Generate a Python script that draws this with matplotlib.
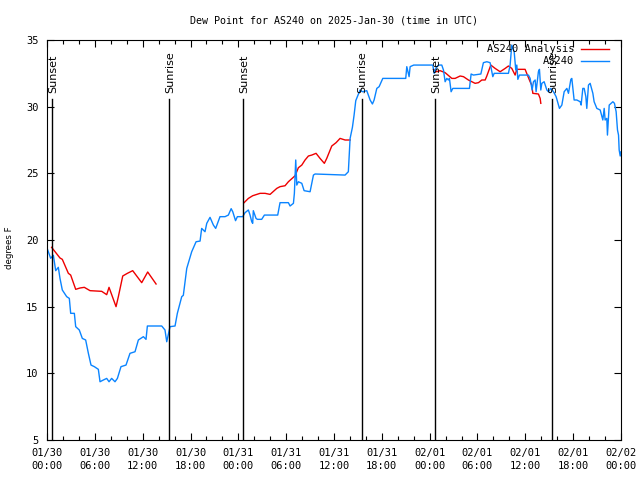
#!/usr/bin/env python3
"""
Dew point time series for AS240, gnuplot-style look
"""
import matplotlib.pyplot as plt
import numpy as np

# hours since 2025-01-30 00:00 UTC, dew point in degrees F
obs_hours = [0.0, 0.46, 0.8, 1.09, 1.42, 1.63, 1.92, 2.47, 2.8, 2.97, 3.43, 3.6, 4.05, 4.43,
             4.85, 5.19, 5.52, 5.94, 6.44, 6.65, 7.07, 7.49, 7.78, 8.11, 8.53, 8.83, 9.28,
             9.91, 10.41, 11.04, 11.46, 12.09, 12.42, 12.59, 14.39, 14.8, 15.02, 15.43,
             16.06, 16.35, 16.9, 17.1, 17.53, 18.15, 18.7, 19.2, 19.4, 19.82, 20.04, 20.45,
             20.87, 21.16, 21.7, 22.33, 22.75, 23.1, 23.3, 23.65, 23.88, 24.55, 24.84,
             25.26, 25.47, 25.68, 25.8, 25.88, 26.22, 26.39, 26.93, 27.27, 28.94, 29.23,
             30.28, 30.49, 30.91, 31.03, 31.2, 31.33, 31.53, 31.96, 32.25, 33.0, 33.42,
             33.63, 37.39, 37.8, 38.02, 38.31, 38.52, 38.73, 39.06, 39.27, 39.56, 40.11,
             40.53, 40.82, 41.03, 41.37, 41.66, 42.12, 45.0, 45.13, 45.42, 45.55, 46.0,
             48.39, 48.56, 48.77, 49.1, 49.52, 49.73, 49.94, 50.15, 50.35, 50.48, 50.69,
             50.9, 52.99, 53.2, 53.49, 54.42, 54.74, 55.17, 55.58, 55.92, 56.09, 57.88,
             58.09, 58.3, 58.6, 58.8, 58.93, 59.06, 59.26, 60.39, 60.6, 60.85, 61.02,
             61.23, 61.35, 61.64, 61.77, 61.94, 62.07, 62.36, 62.7, 62.9, 63.2, 63.53,
             63.86, 64.28, 64.58, 64.87, 65.21, 65.41, 65.71, 65.83, 66.12, 66.46, 66.88,
             67.0, 67.21, 67.38, 67.59, 67.71, 67.92, 68.13, 68.47, 68.63, 68.97, 69.39,
             69.72, 69.89, 70.01, 70.22, 70.3, 70.52, 70.98, 71.18, 71.39, 71.56, 71.69,
             71.77, 71.9, 72.0]
obs_dewpt = [19.4, 18.63, 18.85, 17.7, 17.95, 17.12, 16.25, 15.75, 15.62, 14.5, 14.5, 13.5,
             13.25, 12.62, 12.5, 11.5, 10.62, 10.5, 10.3, 9.37, 9.5, 9.62, 9.37, 9.62, 9.37,
             9.62, 10.5, 10.62, 11.5, 11.62, 12.5, 12.75, 12.55, 13.55, 13.55, 13.25, 12.37,
             13.5, 13.55, 14.5, 15.75, 15.85, 17.87, 19.12, 19.87, 19.92, 20.87, 20.62,
             21.25, 21.7, 21.12, 20.87, 21.75, 21.75, 21.87, 22.35, 22.12, 21.45, 21.75,
             21.75, 22.05, 22.25, 21.87, 21.37, 21.25, 22.2, 21.62, 21.55, 21.55, 21.87,
             21.87, 22.8, 22.8, 22.55, 22.75, 23.5, 26.0, 24.12, 24.37, 24.25, 23.7, 23.62,
             24.87, 24.95, 24.87, 25.12, 27.62, 28.45, 29.37, 30.45, 30.95, 31.25, 31.12,
             31.2, 30.5, 30.2, 30.5, 31.37, 31.5, 32.12, 32.12, 33.0, 32.25, 33.0, 33.12,
             33.12, 32.5, 32.87, 33.12, 33.12, 32.75, 31.87, 32.12, 32.0, 32.12, 31.12,
             31.37, 31.37, 32.45, 32.37, 32.45, 33.3, 33.37, 33.3, 32.25, 32.5, 32.5, 33.12,
             34.62, 34.12, 32.75, 33.12, 32.05, 32.37, 32.37, 32.12, 31.25, 31.87, 32.0,
             31.12, 32.62, 32.8, 31.25, 31.75, 31.87, 31.25, 31.12, 31.37, 31.12, 30.75,
             29.87, 30.12, 31.12, 31.37, 31.0, 32.05, 32.12, 30.5, 30.5, 30.37, 30.12,
             31.37, 31.37, 30.75, 29.87, 31.62, 31.75, 31.0, 30.37, 29.87, 29.75, 29.0,
             29.87, 29.0, 29.12, 27.87, 30.12, 30.37, 30.25, 29.62, 28.25, 27.87, 26.75,
             26.3, 26.62]

# analysis series has gaps (nan breaks the line)
ana_hours = [0.58, 1.63, 1.92, 2.68, 2.97, 3.6, 4.14, 4.68, 5.4, 6.86, 7.49, 7.78, 8.66,
             8.95, 9.5, 10.08, 10.75, 11.88, 12.63, 13.68, 19.0,
             24.72, 25.26, 25.8, 26.73, 27.35, 27.98, 28.82, 29.23, 29.86, 30.28, 31.12,
             31.53, 31.96, 32.37, 32.79, 33.21, 33.75, 34.25, 34.79, 35.09, 35.72, 36.26,
             36.76, 37.39, 38.02, 43.0,
             48.47, 48.81, 49.31, 49.94, 50.78, 51.19, 51.82, 52.24, 52.86, 53.7, 54.12,
             54.54, 54.96, 55.17, 55.67, 56.21, 56.84, 57.47, 57.88, 58.3, 58.72, 58.93,
             59.97, 60.26, 60.6, 60.81, 60.94, 61.64, 61.86, 61.94]
ana_dewpt = [19.45, 18.65, 18.55, 17.5, 17.37, 16.3, 16.4, 16.45, 16.2, 16.15, 15.9, 16.45,
             15.0, 15.75, 17.3, 17.5, 17.7, 16.8, 17.6, 16.7, np.nan,
             22.8, 23.12, 23.32, 23.5, 23.5, 23.42, 23.87, 24.0, 24.07, 24.37, 24.82,
             25.42, 25.62, 26.0, 26.3, 26.37, 26.5, 26.12, 25.75, 26.12, 27.05, 27.3,
             27.62, 27.5, 27.5, np.nan,
             32.8, 32.62, 32.7, 32.55, 32.12, 32.12, 32.3, 32.25, 32.0, 31.75, 31.8,
             32.0, 32.0, 32.3, 33.12, 32.87, 32.62, 32.87, 33.05, 32.87, 32.37, 32.8,
             32.8, 32.37, 31.87, 31.62, 31.0, 30.95, 30.62, 30.25]

sunset_hours = [0.58, 24.63, 48.72]
sunrise_hours = [15.35, 39.45, 63.4]

tick_hours = list(range(0, 73, 6))
tick_labels = ['01/30\n00:00', '01/30\n06:00', '01/30\n12:00', '01/30\n18:00',
               '01/31\n00:00', '01/31\n06:00', '01/31\n12:00', '01/31\n18:00',
               '02/01\n00:00', '02/01\n06:00', '02/01\n12:00', '02/01\n18:00',
               '02/02\n00:00']

plt.rcParams['font.family'] = 'DejaVu Sans Mono'
plt.rcParams['font.size'] = 7.5

fig = plt.figure(figsize=(6.4, 4.8), dpi=100)
ax = fig.add_axes([47 / 640, 40 / 480, 574 / 640, 400 / 480])

ax.plot(ana_hours, ana_dewpt, color='#ee0000', lw=1.0, label='AS240 Analysis')
ax.plot(obs_hours, obs_dewpt, color='#0a84ff', lw=1.0, label='AS240')

# sun lines with labels
for hrs, name in [(sunset_hours, 'Sunset'), (sunrise_hours, 'Sunrise')]:
    for h in hrs:
        ax.plot([h, h], [5, 30.6], color='black', lw=1.0)
        ax.text(h + 0.15, 31.05, name, rotation=90, ha='center', va='bottom',
                family='DejaVu Sans', fontsize=8)

ax.set_xlim(0, 72)
ax.set_ylim(5, 35)
ax.set_xticks(tick_hours)
ax.set_xticklabels(tick_labels, linespacing=1.3)
ax.set_xticks(np.arange(0, 73, 2), minor=True)
ax.set_yticks(np.arange(5, 36, 5))
ax.tick_params(which='both', direction='in', top=True, right=True, width=0.8)
ax.tick_params(which='major', length=5)
ax.tick_params(which='minor', length=3)
ax.tick_params(axis='x', pad=6)
ax.tick_params(axis='y', pad=6)
for s in ax.spines.values():
    s.set_linewidth(0.8)

ax.set_ylabel('degrees F', family='DejaVu Sans', fontsize=6.2)
ax.yaxis.set_label_coords(-33 / 574, 0.481)
ax.set_title('Dew Point for AS240 on 2025-Jan-30 (time in UTC)', fontsize=7.2, pad=12)

ax.legend(loc='upper right', bbox_to_anchor=(1 - 8 / 574, 1), borderaxespad=0,
          borderpad=0.4, markerfirst=False, frameon=False, handlelength=2.7,
          handletextpad=0.6, labelspacing=0.2)

plt.savefig('out.png', dpi=100)
plt.close()
